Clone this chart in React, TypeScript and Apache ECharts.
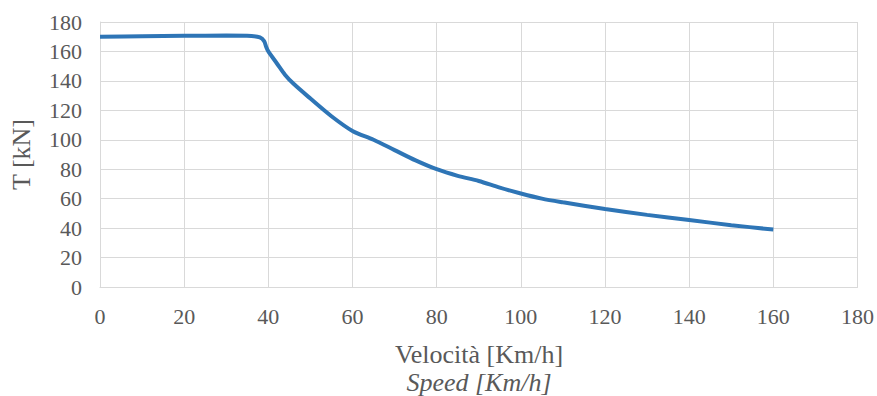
import React, { useEffect, useRef } from "react";
import * as echarts from "echarts";

const speedKmh = [0, 10, 20, 30, 36, 38, 39, 39.5, 40, 42, 44, 46, 50, 55, 60, 65, 70, 75, 80, 85, 90, 95, 100, 105, 110, 120, 130, 140, 150, 160];
const tractionKN = [170, 170.3, 170.6, 170.8, 170.5, 169.5, 167, 163, 160, 152, 144, 138, 128, 116, 106, 100, 93, 86, 80, 75.5, 72, 67.5, 63.5, 60, 57.5, 53, 49, 45.5, 42, 39];

const xAxisTitle = "Velocità [Km/h]";
const xAxisSubtitle = "Speed [Km/h]";
const yAxisTitle = "T [kN]";

export default function App() {
  const ref = useRef<HTMLDivElement>(null);
  useEffect(() => {
    if (!ref.current) return;
    const chart = echarts.init(ref.current, undefined, { renderer: "svg" });
    const font = "Liberation Serif";
    const textColor = "#595959";
    const gridColor = "#D9D9D9";
    chart.setOption({
      animation: false,
      backgroundColor: "#ffffff",
      grid: { left: 100, right: 19, top: 22, bottom: 109, containLabel: false },
      xAxis: {
        type: "value",
        min: 0,
        max: 180,
        interval: 20,
        axisLine: { show: true, lineStyle: { color: gridColor, width: 1 } },
        axisTick: { show: false },
        splitLine: { show: true, lineStyle: { color: gridColor, width: 1 } },
        axisLabel: { color: textColor, fontFamily: font, fontSize: 22, margin: 18 },
      },
      yAxis: {
        type: "value",
        min: 0,
        max: 180,
        interval: 20,
        name: yAxisTitle,
        nameLocation: "middle",
        nameGap: 66,
        nameTextStyle: { color: textColor, fontFamily: font, fontSize: 26 },
        axisLine: { show: true, lineStyle: { color: gridColor, width: 1 } },
        axisTick: { show: false },
        splitLine: { show: true, lineStyle: { color: gridColor, width: 1 } },
        axisLabel: { color: textColor, fontFamily: font, fontSize: 22, margin: 18 },
      },
      graphic: [
        {
          type: "text",
          x: 479,
          y: 354,
          style: {
            text: xAxisTitle,
            fill: textColor,
            fontFamily: font,
            fontSize: 26,
            textAlign: "center",
            textVerticalAlign: "middle",
          },
        },
        {
          type: "text",
          x: 479,
          y: 382,
          style: {
            text: xAxisSubtitle,
            fill: textColor,
            fontFamily: font,
            fontStyle: "italic",
            fontSize: 26,
            textAlign: "center",
            textVerticalAlign: "middle",
          },
        },
      ],
      series: [
        {
          type: "line",
          data: speedKmh.map((s, i) => [s, tractionKN[i]]),
          showSymbol: false,
          smooth: 0.3,
          lineStyle: { color: "#2E75B6", width: 4 },
        },
      ],
    });
    return () => chart.dispose();
  }, []);
  return <div ref={ref} style={{ position: "fixed", left: 0, top: 0, width: 877, height: 396 }} />;
}
